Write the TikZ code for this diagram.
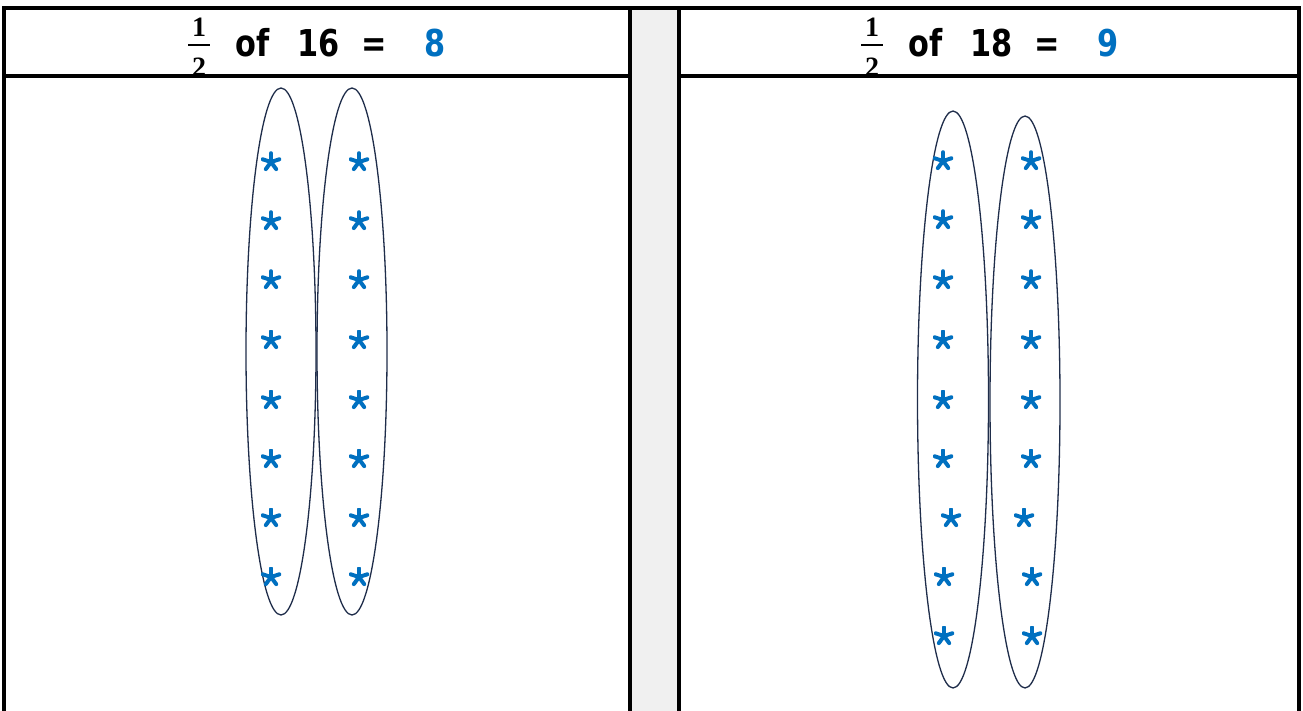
\documentclass[tikz,border=0pt]{standalone}
\usepackage{fontspec}
\setmainfont{DejaVu Sans}
\newfontfamily\fracfont{Liberation Serif}
\newfontfamily\hdrfont[FakeStretch=0.82]{DejaVu Sans}
\definecolor{starblue}{HTML}{0070C0}
\definecolor{ellline}{HTML}{1F2D4A}
\definecolor{gapgrey}{HTML}{F0F0F0}
\tikzset{
  border/.style={line width=3.5pt, line cap=rect},
  oval/.style={draw=ellline, line width=1.3pt, ellipse},
  hdr/.style={font=\hdrfont\bfseries\fontsize{37}{37}\selectfont, inner sep=0pt, anchor=base west},
  fracdig/.style={font=\fracfont\bfseries\fontsize{28}{28}\selectfont, inner sep=0pt, anchor=base},
  fracbar/.style={line width=2.4pt},
  ast/.style={minimum size=20pt, inner sep=0pt,
    path picture={\foreach \a in {90,162,234,306,18}
      \draw[starblue, line width=4pt, line cap=round]
        (path picture bounding box.center) -- ++(\a:8.8pt);}}
}
\usetikzlibrary{shapes.geometric}
\begin{document}
\begin{tikzpicture}[x=1pt,y=-1pt]
\useasboundingbox (0,0) rectangle (1303,711);
\fill[white] (0,0) rectangle (1303,711);
% grey gap
\fill[gapgrey] (631,8) rectangle (679,711);
% borders
\draw[border] (4,711) -- (4,8) -- (1299,8) -- (1299,711);
\draw[border] (630,8) -- (630,711);
\draw[border] (679,8) -- (679,711);
\draw[border] (4,76) -- (630,76);
\draw[border] (679,76) -- (1299,76);
% headers
\foreach \dx/\n/\v/\r in {0/l/16/8, 673/r/18/9} {
  \begin{scope}[xshift=\dx pt]
    \node[fracdig] (num\n) at (199,37) {1};
    \node[fracdig] (den\n) at (199,77) {2};
    \coordinate (barl\n) at (188,45);
    \coordinate (barr\n) at (210,45);
    \draw[fracbar] (barl\n) -- (barr\n);
    \node[hdr] (of\n) at (235,57) {of};
    \node[hdr] (val\n) at (297,57) {\v};
    \node[hdr] (eq\n) at (361,57) {=};
    \node[hdr, text=starblue] (ans\n) at (424,57) {\r};
  \end{scope}
}
% left ovals
\node[oval, minimum width=70pt, minimum height=527pt, inner sep=0pt] (e1) at (281,351.5) {};
\node[oval, minimum width=70pt, minimum height=527pt, inner sep=0pt] (e2) at (352,351.5) {};
% right ovals
\node[oval, minimum width=71pt, minimum height=577pt, inner sep=0pt] (e3) at (953,399.5) {};
\node[oval, minimum width=70pt, minimum height=572pt, inner sep=0pt] (e4) at (1025,402) {};
% left stars
\foreach \y [count=\i] in {162,221,280,340,400,459,518,577} {
  \node[ast] (ls\i) at (271,\y) {};
  \node[ast] (rs\i) at (359,\y) {};
}
% right stars
\foreach \y/\xa/\xb [count=\i] in {161/943/1031,220/943/1031,280/943/1031,340/943/1031,400/943/1031,459/943/1031,518/951/1024,577/944/1032,636/944/1032} {
  \node[ast] (ms\i) at (\xa,\y) {};
  \node[ast] (ns\i) at (\xb,\y) {};
}
\end{tikzpicture}
\end{document}
